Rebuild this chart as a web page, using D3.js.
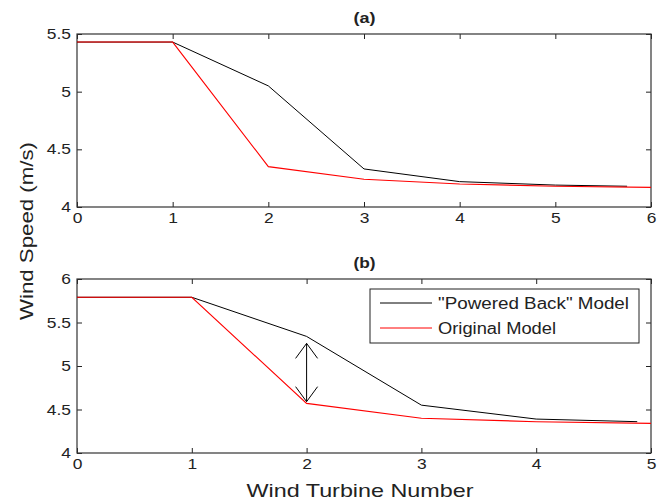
<!DOCTYPE html>
<html><head><meta charset="utf-8">
<script src="https://cdn.jsdelivr.net/npm/d3@7"></script>
<style>body{margin:0;background:#fff}svg{display:block}text{font-family:"Liberation Sans",Arial,sans-serif}</style>
</head><body><svg id="c" width="667" height="504"></svg>
<script>
// Panel (a)
const aX = [0, 1, 2, 3, 4, 5, 5.75];
const aPowered = [5.43, 5.43, 5.05, 4.33, 4.22, 4.19, 4.18];
const aXo = [0, 1, 2, 3, 4, 5, 6];
const aOriginal = [5.43, 5.43, 4.35, 4.24, 4.20, 4.18, 4.17];
const aXTicks = [0, 1, 2, 3, 4, 5, 6];
const aYTicks = [4, 4.5, 5, 5.5];
// Panel (b)
const bX = [0, 1, 2, 3, 4, 4.88];
const bPowered = [5.79, 5.79, 5.34, 4.55, 4.39, 4.36];
const bXo = [0, 1, 2, 3, 4, 5];
const bOriginal = [5.79, 5.79, 4.57, 4.40, 4.36, 4.34];
const bXTicks = [0, 1, 2, 3, 4, 5];
const bYTicks = [4, 4.5, 5, 5.5, 6];
const arrowX = 2, arrowTop = 5.26, arrowBottom = 4.59;
const legendLabels = ['"Powered Back" Model', 'Original Model'];
const colors = ["#000000", "#ff0000"];

const svg = d3.select("#c");
const L = 77, R = 651;

function stretch(sel, k) {
  sel.each(function () {
    const w = this.getComputedTextLength();
    d3.select(this).attr("textLength", w * k).attr("lengthAdjust", "spacingAndGlyphs");
  });
}

function panel(cfg) {
  const x = d3.scaleLinear().domain(cfg.xd).range([L, R]);
  const y = d3.scaleLinear().domain(cfg.yd).range([cfg.bottom, cfg.top]);
  const g = svg.append("g");
  const tl = 5;
  g.append("g").attr("transform", `translate(0,${cfg.bottom})`)
    .call(d3.axisBottom(x).tickValues(cfg.xt).tickSize(-tl).tickPadding(6).tickFormat(d3.format("")))
    .call(s => { s.select(".domain").remove(); s.selectAll("text").attr("font-size", 14.5).attr("fill", "#222").call(stretch, 1.2); });
  g.append("g").attr("transform", `translate(0,${cfg.top})`)
    .call(d3.axisTop(x).tickValues(cfg.xt).tickSize(-tl).tickFormat(""))
    .call(s => s.select(".domain").remove());
  g.append("g").attr("transform", `translate(${L},0)`)
    .call(d3.axisLeft(y).tickValues(cfg.yt).tickSize(-tl).tickPadding(6).tickFormat(d3.format("")))
    .call(s => { s.select(".domain").remove(); s.selectAll("text").attr("font-size", 14.5).attr("fill", "#222").call(stretch, 1.2); });
  g.append("g").attr("transform", `translate(${R},0)`)
    .call(d3.axisRight(y).tickValues(cfg.yt).tickSize(-tl).tickFormat(""))
    .call(s => s.select(".domain").remove());
  g.selectAll(".tick line").attr("stroke", "#222");
  g.append("rect").attr("x", L).attr("y", cfg.top).attr("width", R - L).attr("height", cfg.bottom - cfg.top)
    .attr("fill", "none").attr("stroke", "#333").attr("stroke-width", 1.2);
  const line = d3.line().x(d => x(d[0])).y(d => y(d[1]));
  g.append("path").datum(cfg.xs.map((v, i) => [v, cfg.p[i]])).attr("d", line)
    .attr("fill", "none").attr("stroke", colors[0]).attr("stroke-width", 1);
  g.append("path").datum(cfg.xo.map((v, i) => [v, cfg.o[i]])).attr("d", line)
    .attr("fill", "none").attr("stroke", colors[1]).attr("stroke-width", 1.1);
  g.append("text").attr("x", (L + R) / 2 + 0.5).attr("y", cfg.top - 11).attr("text-anchor", "middle")
    .attr("font-size", 14.5).attr("font-weight", "bold").attr("fill", "#222").text(cfg.title)
    .attr("textLength", 22).attr("lengthAdjust", "spacingAndGlyphs");
  return { x, y, g };
}

panel({ xd: [0, 6], yd: [4, 5.5], top: 34, bottom: 207, xt: aXTicks, yt: aYTicks,
  xs: aX, p: aPowered, xo: aXo, o: aOriginal, title: "(a)" });
const pb = panel({ xd: [0, 5], yd: [4, 6], top: 279, bottom: 453, xt: bXTicks, yt: bYTicks,
  xs: bX, p: bPowered, xo: bXo, o: bOriginal, title: "(b)" });

// double arrow
const ax = pb.x(arrowX), at = pb.y(arrowTop), ab = pb.y(arrowBottom);
const ag = pb.g.append("g").attr("stroke", "#000").attr("stroke-width", 1).attr("fill", "none");
ag.append("line").attr("x1", ax).attr("x2", ax).attr("y1", at).attr("y2", ab);
ag.append("path").attr("d", `M${ax - 11},${at + 15}L${ax},${at}L${ax + 11},${at + 15}`);
ag.append("path").attr("d", `M${ax - 11},${ab - 15}L${ax},${ab}L${ax + 11},${ab - 15}`);

// legend
const lg = svg.append("g");
lg.append("rect").attr("x", 370).attr("y", 289).attr("width", 269).attr("height", 54)
  .attr("fill", "#fff").attr("stroke", "#222");
const legendWidths = [191, 118];
legendLabels.forEach((t, i) => {
  const yy = 303 + i * 25;
  lg.append("line").attr("x1", 380).attr("x2", 432).attr("y1", yy).attr("y2", yy).attr("stroke", colors[i]);
  lg.append("text").attr("x", 438).attr("y", yy + 6).attr("font-size", 16).attr("fill", "#222")
    .attr("textLength", legendWidths[i]).attr("lengthAdjust", "spacingAndGlyphs").text(t);
});

// axis labels
svg.append("text").attr("transform", "translate(33,231) rotate(-90)").attr("text-anchor", "middle")
  .attr("font-size", 19).attr("fill", "#222").attr("textLength", 178).attr("lengthAdjust", "spacingAndGlyphs")
  .text("Wind Speed (m/s)");
svg.append("text").attr("x", 360).attr("y", 497).attr("text-anchor", "middle")
  .attr("font-size", 19).attr("fill", "#222").attr("textLength", 227).attr("lengthAdjust", "spacingAndGlyphs")
  .text("Wind Turbine Number");
</script></body></html>
